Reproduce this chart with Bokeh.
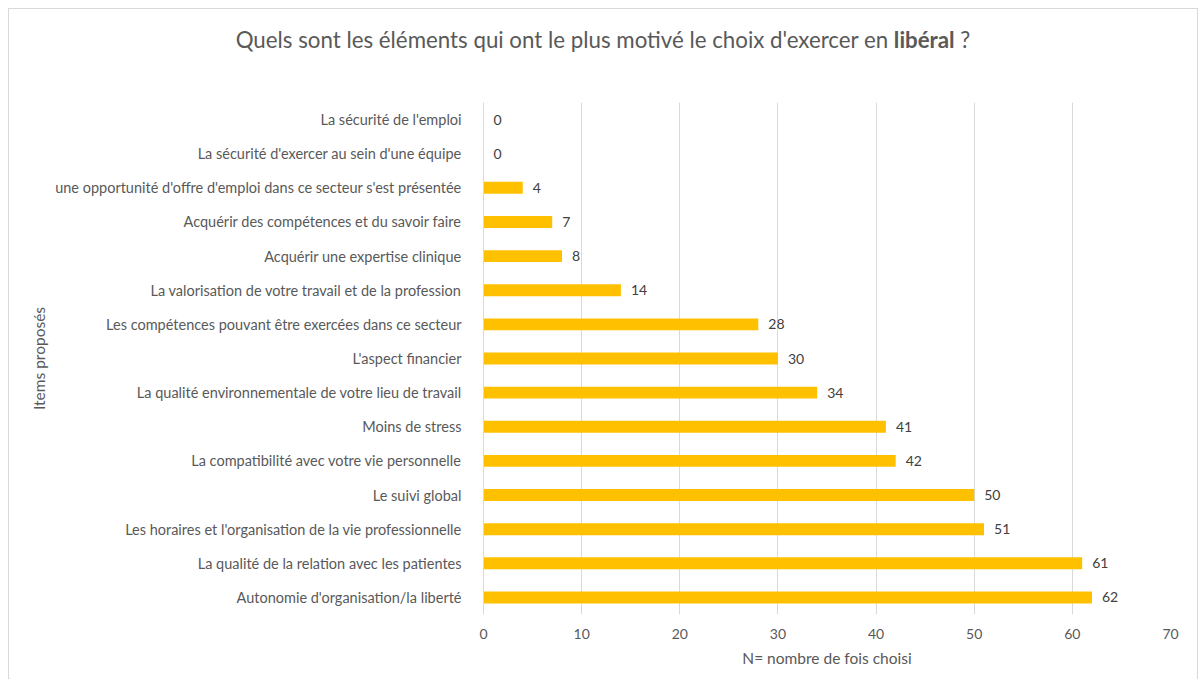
from bokeh.plotting import figure
from bokeh.models import FactorRange, Range1d, Title, FixedTicker, ColumnDataSource, Div
from bokeh.layouts import column
from bokeh.core.properties import value
from bokeh.embed import file_html
from bokeh.resources import INLINE

# Data (top to bottom as displayed)
items = [
    "La sécurité de l'emploi",
    "La sécurité d'exercer au sein d'une équipe",
    "une opportunité d'offre d'emploi dans ce secteur s'est présentée",
    "Acquérir des compétences et du savoir faire",
    "Acquérir une expertise clinique",
    "La valorisation de votre travail et de la profession",
    "Les compétences pouvant être exercées dans ce secteur",
    "L'aspect financier",
    "La qualité environnementale de votre lieu de travail",
    "Moins de stress",
    "La compatibilité avec votre vie personnelle",
    "Le suivi global",
    "Les horaires et l'organisation de la vie professionnelle",
    "La qualité de la relation avec les patientes",
    "Autonomie d'organisation/la liberté",
]
counts = [0, 0, 4, 7, 8, 14, 28, 30, 34, 41, 42, 50, 51, 61, 62]
x_ticks = [0, 10, 20, 30, 40, 50, 60, 70]

title_main = "Quels sont les éléments qui ont le plus motivé le choix d'exercer en"
title_bold = "libéral"
title_end = "?"
x_label = "N= nombre de fois choisi"
y_label = "Items proposés"

FONT = "Lato"
GRAY = "#595959"
GRID = "#D9D9D9"
BAR = "#FFC000"

source = ColumnDataSource(data=dict(
    item=items,
    count=counts,
    label=[str(c) for c in counts],
))

factors = list(reversed(items))

W = 1190
TITLE_H = 62
H = 671 - TITLE_H

title_div = Div(
    text=f"{title_main} <b>{title_bold}</b> {title_end}",
    width=W, height=TITLE_H, margin=0,
    styles={
        "text-align": "center",
        "font-family": "Lato",
        "font-size": "22.3px",
        "color": GRAY,
        "line-height": f"{TITLE_H}px",
        "white-space": "nowrap",
    },
)

p = figure(
    width=W, height=H,
    y_range=FactorRange(factors=factors, range_padding=0),
    x_range=Range1d(0, 70),
    output_backend="svg",
    toolbar_location=None,
    min_border_left=474, min_border_right=27,
    min_border_top=93 - TITLE_H, min_border_bottom=66,
    margin=0,
)
p.outline_line_color = None
p.background_fill_color = "white"
p.border_fill_color = "white"

p.hbar(y="item", left=0, right="count", height=0.35, source=source,
       fill_color=BAR, line_color=None)

p.text(x="count", y="item", text="label", source=source,
       x_offset=10, text_baseline="middle", text_align="left",
       text_font=value(FONT), text_font_size="14px", text_color="#404040")

# X axis
p.xaxis.ticker = FixedTicker(ticks=x_ticks)
p.xaxis.axis_line_color = None
p.xaxis.major_tick_line_color = None
p.xaxis.minor_tick_line_color = None
p.xaxis.major_label_text_font = FONT
p.xaxis.major_label_text_font_size = "14px"
p.xaxis.major_label_text_color = GRAY
p.xaxis.major_label_standoff = 8
p.xaxis.axis_label = x_label
p.xaxis.axis_label_text_font = FONT
p.xaxis.axis_label_text_font_style = "normal"
p.xaxis.axis_label_text_font_size = "15.5px"
p.xaxis.axis_label_text_color = GRAY
p.xaxis.axis_label_standoff = 7

# Y axis
p.yaxis.axis_line_color = GRID
p.yaxis.major_tick_line_color = None
p.yaxis.minor_tick_line_color = None
p.yaxis.major_label_text_font = FONT
p.yaxis.major_label_text_font_size = "14.5px"
p.yaxis.major_label_text_color = GRAY
p.yaxis.major_label_standoff = 16

p.ygrid.grid_line_color = None
p.xgrid.grid_line_color = GRID
p.xgrid.grid_line_width = 1

# Y axis title at far left
p.add_layout(Title(text=y_label, align="center", text_font=FONT,
                   text_font_style="normal", text_font_size="15.5px",
                   text_color=GRAY), "left")

layout = column(
    title_div, p, spacing=0, width=W, height=TITLE_H + H, sizing_mode="fixed",
    styles={"border": "1px solid #D9D9D9", "margin-left": "8px", "margin-top": "8px",
            "background-color": "white", "width": f"{W}px"},
)

open("out.html", "w").write(file_html(layout, INLINE))
